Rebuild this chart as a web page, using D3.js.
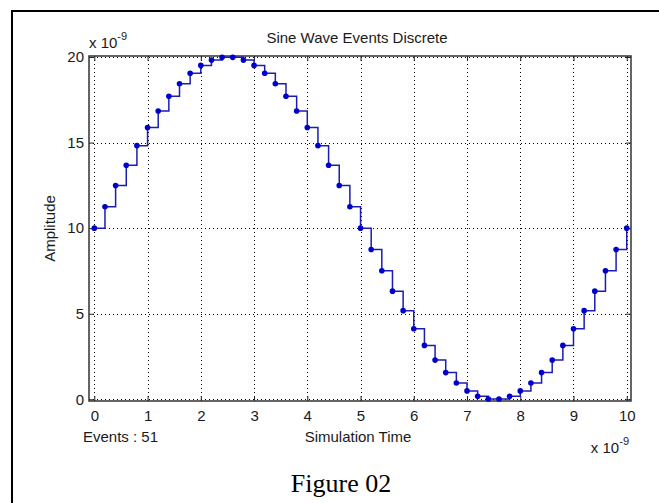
<!DOCTYPE html>
<html>
<head>
<meta charset="utf-8">
<script src="https://cdn.jsdelivr.net/npm/d3@7"></script>
<style>
  html, body { margin: 0; padding: 0; background: #fff; }
  svg { display: block; }
  .lbl { font-family: "Liberation Sans", Arial, sans-serif; font-size: 15px; fill: #1a1a1a; }
  .tick text { font-family: "Liberation Sans", Arial, sans-serif; font-size: 15px; fill: #1a1a1a; }
</style>
</head>
<body>
<script>
// -------------------------------------------------------------------------
// Data (values in units of 1e-9)

const times = [
  0, 0.2, 0.4, 0.6, 0.8, 1.0, 1.2, 1.4, 1.6, 1.8,
  2.0, 2.2, 2.4, 2.6, 2.8, 3.0, 3.2, 3.4, 3.6, 3.8,
  4.0, 4.2, 4.4, 4.6, 4.8, 5.0, 5.2, 5.4, 5.6, 5.8,
  6.0, 6.2, 6.4, 6.6, 6.8, 7.0, 7.2, 7.4, 7.6, 7.8,
  8.0, 8.2, 8.4, 8.6, 8.8, 9.0, 9.2, 9.4, 9.6, 9.8, 10.0
];

const amplitudes = [
  10.00, 11.25, 12.49, 13.68, 14.82, 15.88, 16.85, 17.71, 18.44, 19.05,
  19.51, 19.82, 19.98, 19.98, 19.82, 19.51, 19.05, 18.44, 17.71, 16.85,
  15.88, 14.82, 13.68, 12.49, 11.25, 10.00, 8.75, 7.51, 6.32, 5.18,
  4.12, 3.15, 2.29, 1.56, 0.95, 0.49, 0.18, 0.02, 0.02, 0.18,
  0.49, 0.95, 1.56, 2.29, 3.15, 4.12, 5.18, 6.32, 7.51, 8.75, 10.00
];

const xTicks = [0, 1, 2, 3, 4, 5, 6, 7, 8, 9, 10];
const yTicks = [0, 5, 10, 15, 20];

const titleText = 'Sine Wave Events Discrete';
const xLabel = 'Simulation Time';
const yLabel = 'Amplitude';
const eventsText = 'Events : ' + times.length;
const captionText = 'Figure 02';

// -------------------------------------------------------------------------
// Layout

const width = 659;
const height = 503;
const box = { left: 89, right: 631, top: 56, bottom: 401 };

const x = d3.scaleLinear().domain([-0.1, 10.08]).range([box.left, box.right]);
const y = d3.scaleLinear().domain([-0.1, 20.06]).range([box.bottom, box.top]);

const svg = d3.select('body').append('svg')
  .attr('width', width)
  .attr('height', height);

// outer figure frame
svg.append('rect')
  .attr('x', 12).attr('y', 11)
  .attr('width', 700).attr('height', 600)
  .attr('fill', 'none')
  .attr('stroke', '#000')
  .attr('stroke-width', 2);

// grid lines
const grid = svg.append('g').attr('class', 'grid');
grid.selectAll('line.gx')
  .data(xTicks)
  .enter().append('line')
  .attr('class', 'gx')
  .attr('x1', d => Math.round(x(d)) + 0.5).attr('x2', d => Math.round(x(d)) + 0.5)
  .attr('y1', box.top).attr('y2', box.bottom);
grid.selectAll('line.gy')
  .data(yTicks)
  .enter().append('line')
  .attr('class', 'gy')
  .attr('y1', d => Math.round(y(d)) + 0.5).attr('y2', d => Math.round(y(d)) + 0.5)
  .attr('x1', box.left).attr('x2', box.right);
grid.selectAll('line')
  .attr('stroke', '#000')
  .attr('stroke-width', 1)
  .attr('stroke-dasharray', '1,3');

// axes, ticks pointing inward
const axisStyle = function(g) {
  g.select('.domain').remove();
  g.selectAll('.tick line').attr('stroke', '#222');
};

svg.append('g')
  .attr('transform', `translate(0,${box.bottom})`)
  .call(d3.axisBottom(x).tickValues(xTicks).tickSizeInner(-5).tickSizeOuter(0).tickPadding(9))
  .call(axisStyle);

svg.append('g')
  .attr('transform', `translate(0,${box.top})`)
  .call(d3.axisTop(x).tickValues(xTicks).tickSizeInner(-5).tickSizeOuter(0).tickFormat(''))
  .call(axisStyle);

svg.append('g')
  .attr('transform', `translate(${box.left},0)`)
  .call(d3.axisLeft(y).tickValues(yTicks).tickSizeInner(-5).tickSizeOuter(0).tickPadding(5))
  .call(axisStyle);

svg.append('g')
  .attr('transform', `translate(${box.right},0)`)
  .call(d3.axisRight(y).tickValues(yTicks).tickSizeInner(-5).tickSizeOuter(0).tickFormat(''))
  .call(axisStyle);

// axes box
svg.append('rect')
  .attr('x', box.left).attr('y', box.top)
  .attr('width', box.right - box.left)
  .attr('height', box.bottom - box.top)
  .attr('fill', 'none')
  .attr('stroke', '#333')
  .attr('stroke-width', 1.5);

// stairs
const points = times.map((t, i) => ({ t: t, v: amplitudes[i] }));

const stairs = d3.line()
  .x(d => x(d.t))
  .y(d => y(d.v))
  .curve(d3.curveStepAfter);

svg.append('path')
  .datum(points)
  .attr('d', stairs)
  .attr('fill', 'none')
  .attr('stroke', '#1c1cb4')
  .attr('stroke-width', 1.5);

svg.selectAll('circle.pt')
  .data(points)
  .enter().append('circle')
  .attr('class', 'pt')
  .attr('cx', d => x(d.t))
  .attr('cy', d => y(d.v))
  .attr('r', 2.8)
  .attr('fill', '#0000cc');

// texts
svg.append('text')
  .attr('class', 'lbl')
  .attr('x', 357).attr('y', 43)
  .attr('text-anchor', 'middle')
  .text(titleText);

const exponent = function(px, py, anchor) {
  const t = svg.append('text')
    .attr('class', 'lbl')
    .attr('x', px).attr('y', py)
    .attr('text-anchor', anchor);
  t.append('tspan').text('x 10');
  t.append('tspan').attr('dy', -8).style('font-size', '11px').text('-9');
};
exponent(89, 48, 'start');
exponent(629, 453, 'end');

svg.append('text')
  .attr('class', 'lbl')
  .attr('x', 83).attr('y', 442)
  .text(eventsText);

svg.append('text')
  .attr('class', 'lbl')
  .attr('x', 358).attr('y', 442)
  .attr('text-anchor', 'middle')
  .text(xLabel);

svg.append('text')
  .attr('class', 'lbl')
  .attr('transform', `translate(55,${(box.top + box.bottom) / 2}) rotate(-90)`)
  .attr('text-anchor', 'middle')
  .text(yLabel);

svg.append('text')
  .attr('x', 341).attr('y', 492)
  .attr('text-anchor', 'middle')
  .style('font-family', '"Liberation Serif", "Times New Roman", serif')
  .style('font-size', '26px')
  .style('fill', '#000')
  .text(captionText);
</script>
</body>
</html>
